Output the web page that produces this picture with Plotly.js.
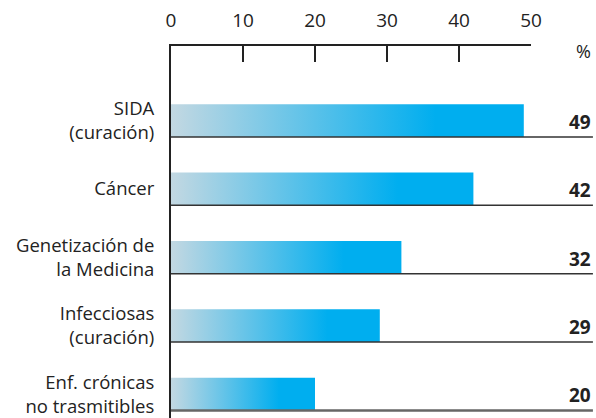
<!DOCTYPE html>
<html>
<head>
<meta charset="utf-8">
<script src="https://cdn.plot.ly/plotly-3.0.1.min.js"></script>
<style>html,body{margin:0;padding:0;background:#fff;}#chart{width:596px;height:418px;}</style>
</head>
<body>
<svg width="0" height="0" style="position:absolute">
  <defs>
    <linearGradient id="barGrad" x1="0" y1="0" x2="1" y2="0">
      <stop offset="0" stop-color="#c3d8e2"/>
      <stop offset="0.75" stop-color="#00aeef"/>
      <stop offset="1" stop-color="#00aeef"/>
    </linearGradient>
  </defs>
</svg>
<div id="chart"></div>
<script>
const categories = ["SIDA<br>(curación)", "Cáncer", "Genetización de<br>la Medicina", "Infecciosas<br>(curación)", "Enf. crónicas<br>no trasmitibles"];
const values = [49, 42, 32, 29, 20];
const tickVals = [0, 10, 20, 30, 40, 50];
const unitLabel = "%";

const FONT = "Open Sans, Noto Sans, sans-serif";
const barWidth = 0.48;

const shapes = categories.map((c, i) => ({
  type: "line", xref: "paper", yref: "y",
  x0: 0, x1: 1.172, y0: i + barWidth / 2, y1: i + barWidth / 2,
  line: { color: i === categories.length - 1 ? "#666" : "#333", width: i === categories.length - 1 ? 2.5 : 1.5 }
}));

const annotations = values.map((v, i) => ({
  xref: "paper", yref: "y", x: 1.173, y: i + barWidth / 2,
  xanchor: "right", yanchor: "bottom", yshift: 0,
  text: "<b>" + v + "</b>", showarrow: false,
  font: { family: FONT, size: 19, color: "#222" }
}));
annotations.push({
  xref: "paper", yref: "paper", x: 1.172, y: 0.987,
  xanchor: "right", yanchor: "middle", text: unitLabel, showarrow: false,
  font: { family: FONT, size: 18, color: "#222" }
});

const trace = {
  type: "bar", orientation: "h",
  x: values, y: categories.map((c, i) => i),
  width: barWidth,
  marker: { color: "#00aeef", line: { width: 0 } },
  hoverinfo: "none"
};

const layout = {
  width: 596, height: 418,
  margin: { l: 171, r: 65, t: 46, b: 0, pad: 0 },
  paper_bgcolor: "#fff", plot_bgcolor: "#fff",
  showlegend: false,
  font: { family: FONT, color: "#222" },
  xaxis: {
    side: "top", range: [0, 50], tickvals: tickVals,
    showgrid: false, zeroline: false,
    showline: true, linecolor: "#222", linewidth: 2,
    ticks: "inside", ticklen: 16, tickwidth: 2, tickcolor: "#222",
    ticklabelstandoff: 9,
    tickfont: { family: FONT, size: 19, color: "#222" }
  },
  yaxis: {
    range: [4.35, -1.09], tickvals: categories.map((c, i) => i), ticktext: categories,
    showgrid: false, zeroline: false,
    showline: true, linecolor: "#222", linewidth: 2,
    ticks: "", ticklabelstandoff: 11,
    tickfont: { family: FONT, size: 18.5, color: "#222" }
  },
  shapes: shapes,
  annotations: annotations
};

Plotly.newPlot("chart", [trace], layout, { staticPlot: true, displayModeBar: false }).then(() => {
  document.querySelectorAll("#chart .barlayer .point path").forEach(p => {
    p.style.fill = "url(#barGrad)";
  });
});
</script>
</body>
</html>
